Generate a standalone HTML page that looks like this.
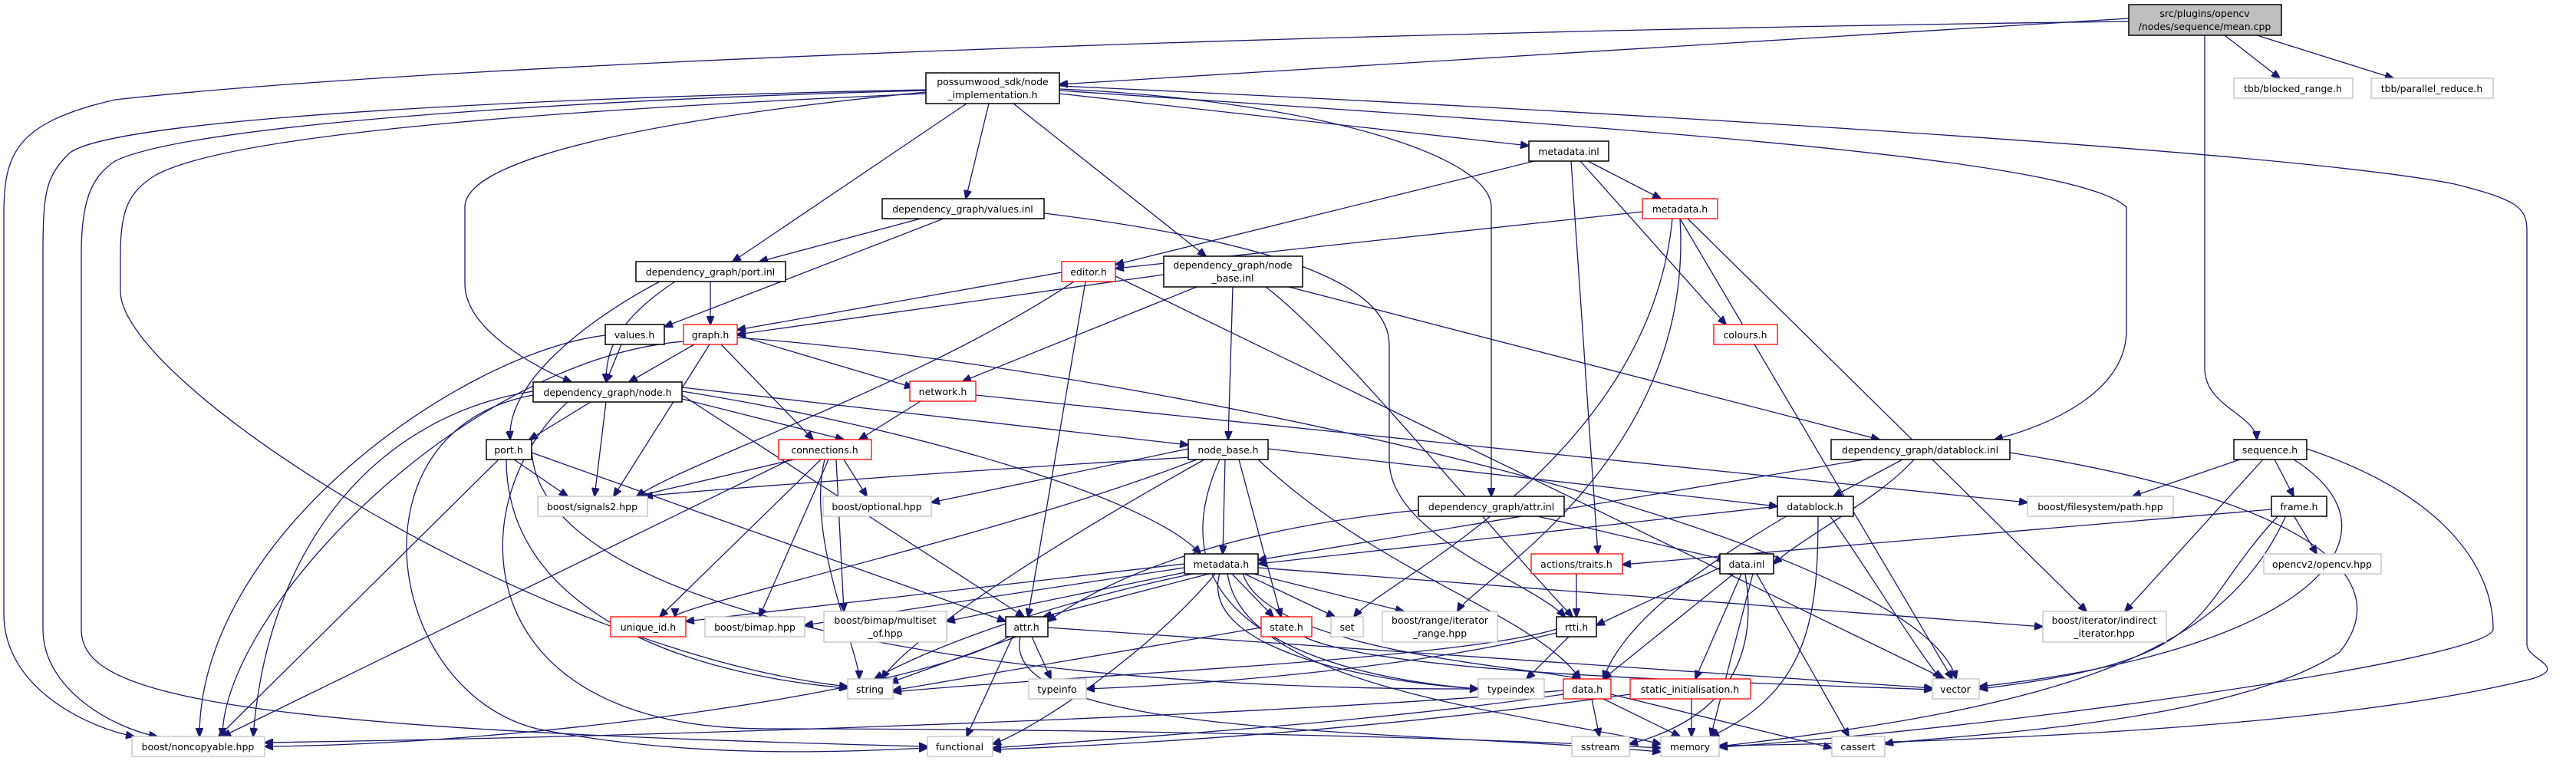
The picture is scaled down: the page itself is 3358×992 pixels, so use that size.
<!DOCTYPE html>
<html><head><meta charset="utf-8"><style>
html,body{margin:0;padding:0;background:#fff;}
svg{display:block;}
text{font-family:"DejaVu Sans","Liberation Sans",sans-serif;font-size:12.5px;fill:#000;text-anchor:middle;}
.e{fill:none;stroke:#191970;stroke-width:1.3;}
.b{fill:#fff;stroke:#000;stroke-width:1.5;}
.g{fill:#fff;stroke:#bfbfbf;stroke-width:1.3;}
.r{fill:#fff;stroke:#ff0000;stroke-width:1.3;}
</style></head><body>
<svg width="3358" height="992" viewBox="0 0 3358 992" xmlns="http://www.w3.org/2000/svg">
<defs><marker id="a" markerWidth="12" markerHeight="10" refX="11" refY="5" orient="auto" markerUnits="userSpaceOnUse"><path d="M0,0 L12,5 L0,10 z" fill="#191970" stroke="#191970"/></marker></defs>
<g class="e" marker-end="url(#a)">
<path d="M2775,24 L1381,110"/>
<path d="M2775,28 C1800,40 600,80 150,130 C20,160 5,200 5,280 L5,800 C5,900 120,950 175,960"/>
<path d="M2900,46 L2972,102"/>
<path d="M2942,46 L3120,102"/>
<path d="M2874,46 L2874,480 C2874,530 2940,540 2942,573"/>
<path d="M1260,135 L955,341"/>
<path d="M1289,135 L1259,259"/>
<path d="M1321,135 L1572,334"/>
<path d="M1381,122 L1993,190"/>
<path d="M1381,118 C2000,160 2700,200 2772,270 L2772,430 C2772,520 2650,560 2600,573"/>
<path d="M1381,112 C2200,150 3000,200 3200,240 C3280,260 3294,270 3294,300 L3294,840 C3294,860 3350,870 3300,885 C3000,960 2400,970 2241,972"/>
<path d="M1381,116 C1700,130 1944,200 1944,270 L1944,647"/>
<path d="M1207,120 C900,150 606,200 606,270 L606,370 C606,430 700,480 745,498"/>
<path d="M1207,117 C800,125 150,150 90,200 C60,230 56,250 56,330 L56,820 C56,900 150,950 205,960"/>
<path d="M1207,118 C800,128 250,160 150,210 C120,230 106,260 106,330 L106,820 C106,900 250,950 1209,973"/>
<path d="M1207,122 C800,140 300,170 200,230 C170,250 157,270 157,330 L157,380 C157,500 700,850 1105,895"/>
<path d="M1200,285 L990,341"/>
<path d="M1230,285 L866,426"/>
<path d="M1361,278 C1700,320 1811,380 1811,450 L1811,600 C1811,700 2000,760 2040,804"/>
<path d="M926,367 L926,423"/>
<path d="M880,367 C800,420 790,460 790,498"/>
<path d="M860,367 C760,420 660,500 665,573"/>
<path d="M2000,210 L1454,345"/>
<path d="M2070,210 L2165,259"/>
<path d="M2060,210 L2250,423"/>
<path d="M2048,210 L2083,722"/>
<path d="M2141,276 L1454,350"/>
<path d="M2190,285 L2545,885"/>
<path d="M2200,285 L2720,797"/>
<path d="M2180,285 C2150,600 1800,760 1765,804"/>
<path d="M2190,285 C2210,600 1920,760 1900,797"/>
<path d="M1384,355 L961,430"/>
<path d="M1400,367 C1200,500 900,600 830,647"/>
<path d="M1415,367 L1340,804"/>
<path d="M1454,360 L2535,885"/>
<path d="M1517,358 L961,436"/>
<path d="M1560,374 L1255,497"/>
<path d="M1607,374 L1601,573"/>
<path d="M1650,374 C1750,450 1950,700 2050,804"/>
<path d="M1680,374 L2450,573"/>
<path d="M810,449 L790,498"/>
<path d="M789,437 C600,460 260,700 260,960"/>
<path d="M905,449 L820,498"/>
<path d="M925,449 L800,647"/>
<path d="M940,449 L1060,573"/>
<path d="M961,437 L1190,505"/>
<path d="M891,445 C600,470 290,800 290,960"/>
<path d="M961,440 C1500,480 2500,700 2550,885"/>
<path d="M770,524 L690,573"/>
<path d="M790,524 L775,647"/>
<path d="M889,505 L1549,580"/>
<path d="M889,510 C1200,560 1500,650 1565,722"/>
<path d="M889,515 L1335,804"/>
<path d="M695,510 C500,540 350,700 330,960"/>
<path d="M695,515 C450,560 500,900 700,950 C900,990 1100,980 1209,975"/>
<path d="M740,524 C600,650 600,950 1000,950 C1400,950 1900,960 2165,975"/>
<path d="M889,520 L1100,573"/>
<path d="M1200,523 L1120,573"/>
<path d="M1272,515 L2643,655"/>
<path d="M670,599 L740,647"/>
<path d="M650,599 L285,960"/>
<path d="M660,599 C660,800 900,880 1105,897"/>
<path d="M693,590 L1311,810"/>
<path d="M693,585 C700,800 1300,900 1927,898"/>
<path d="M1035,599 L830,647"/>
<path d="M1100,599 L1130,647"/>
<path d="M1070,599 L860,804"/>
<path d="M1080,599 L990,804"/>
<path d="M1090,599 L1100,797"/>
<path d="M1030,599 L290,960"/>
<path d="M1075,599 C1050,700 1120,850 1120,885"/>
<path d="M1549,585 L1214,655"/>
<path d="M1597,599 L1594,722"/>
<path d="M1615,599 L1670,804"/>
<path d="M1653,585 L2317,660"/>
<path d="M1560,599 C1300,700 880,790 880,804"/>
<path d="M1570,599 C1300,750 1170,850 1150,885"/>
<path d="M1640,599 C1800,750 2000,800 2060,885"/>
<path d="M1590,599 C1500,800 1700,880 1927,898"/>
<path d="M1570,595 C1300,610 900,640 840,647"/>
<path d="M2480,599 L2390,647"/>
<path d="M2495,599 C2450,650 2350,700 2312,735"/>
<path d="M2430,599 L1640,730"/>
<path d="M2620,590 C3000,650 3130,750 3050,850 C2900,950 2500,960 2457,970"/>
<path d="M2920,599 L2780,647"/>
<path d="M2965,599 L2990,647"/>
<path d="M2950,599 L2770,797"/>
<path d="M2990,599 C3150,700 3000,850 2580,895"/>
<path d="M3007,585 C3200,650 3250,750 3250,820 C3250,860 2600,950 2241,974"/>
<path d="M2961,664 L2115,736"/>
<path d="M2990,672 L3020,722"/>
<path d="M2970,672 C2850,800 2900,860 2580,898"/>
<path d="M2980,672 C2900,850 2700,920 2241,973"/>
<path d="M2317,660 L1640,735"/>
<path d="M2385,672 C2440,750 2500,850 2530,885"/>
<path d="M2330,672 C2250,720 2120,800 2090,885"/>
<path d="M2370,672 C2370,800 2360,900 2230,960"/>
<path d="M1849,665 C1600,690 1450,750 1366,810"/>
<path d="M2000,672 L2250,730"/>
<path d="M1580,747 L1360,804"/>
<path d="M1544,735 L894,810"/>
<path d="M1544,740 L1049,815"/>
<path d="M1550,745 L1234,810"/>
<path d="M1560,747 C1350,790 1200,850 1140,885"/>
<path d="M1605,747 L1660,804"/>
<path d="M1620,747 L1740,804"/>
<path d="M1630,747 L1830,797"/>
<path d="M1640,740 L2663,817"/>
<path d="M1585,747 C1500,850 1350,950 1294,970"/>
<path d="M1590,747 C1560,850 1800,890 1927,898"/>
<path d="M1600,747 C1620,900 2000,930 2165,970"/>
<path d="M1620,747 C1650,850 2000,870 2060,885"/>
<path d="M2055,748 L2055,804"/>
<path d="M2242,740 L2081,815"/>
<path d="M2260,748 L2090,885"/>
<path d="M2270,748 L2210,885"/>
<path d="M2290,748 L2410,960"/>
<path d="M2275,748 C2300,900 2200,950 2124,970"/>
<path d="M2285,748 L2230,960"/>
<path d="M1325,830 L1160,890"/>
<path d="M1345,830 L1370,885"/>
<path d="M1320,830 L1260,960"/>
<path d="M1315,830 C1200,900 700,970 345,973"/>
<path d="M1330,830 C1300,960 1800,950 2165,980"/>
<path d="M1366,818 L2519,897"/>
<path d="M1644,818 L1164,900"/>
<path d="M1700,830 C1800,880 2300,890 2519,899"/>
<path d="M2045,830 L1990,885"/>
<path d="M2029,820 C1900,860 1400,880 1164,902"/>
<path d="M2029,825 C1800,880 1500,895 1416,898"/>
<path d="M2075,911 L2085,960"/>
<path d="M2090,911 L2190,960"/>
<path d="M2038,905 C1800,940 1500,960 1294,975"/>
<path d="M2038,900 C1700,930 900,960 345,968"/>
<path d="M2100,905 L2388,975"/>
<path d="M2205,911 L2205,960"/>
<path d="M2125,905 C1800,950 1500,970 1294,977"/>
</g>
<rect x="2775" y="6" width="199" height="40" fill="#bfbfbf" stroke="#000" stroke-width="1.5"/>
<text x="2874" y="22">src/plugins/opencv</text><text x="2874" y="39">/nodes/sequence/mean.cpp</text>
<rect class="b" x="1207" y="95" width="174" height="40"/><text x="1294" y="111">possumwood_sdk/node</text><text x="1294" y="128">_implementation.h</text>
<rect class="g" x="2912" y="102" width="155" height="26"/><text x="2989" y="120">tbb/blocked_range.h</text>
<rect class="g" x="3091" y="102" width="159" height="26"/><text x="3170" y="120">tbb/parallel_reduce.h</text>
<rect class="b" x="1993" y="184" width="104" height="26"/><text x="2045" y="202">metadata.inl</text>
<rect class="b" x="1150" y="259" width="211" height="26"/><text x="1255" y="277">dependency_graph/values.inl</text>
<rect class="r" x="2141" y="259" width="98" height="26"/><text x="2190" y="277">metadata.h</text>
<rect class="b" x="829" y="341" width="195" height="26"/><text x="926" y="359">dependency_graph/port.inl</text>
<rect class="r" x="1384" y="341" width="70" height="26"/><text x="1419" y="359">editor.h</text>
<rect class="b" x="1517" y="334" width="181" height="40"/><text x="1607" y="350">dependency_graph/node</text><text x="1607" y="367">_base.inl</text>
<rect class="b" x="789" y="423" width="77" height="26"/><text x="827" y="441">values.h</text>
<rect class="r" x="891" y="423" width="70" height="26"/><text x="926" y="441">graph.h</text>
<rect class="r" x="2234" y="423" width="83" height="26"/><text x="2275" y="441">colours.h</text>
<rect class="b" x="695" y="498" width="194" height="26"/><text x="792" y="516">dependency_graph/node.h</text>
<rect class="r" x="1186" y="497" width="86" height="26"/><text x="1229" y="515">network.h</text>
<rect class="b" x="634" y="573" width="59" height="26"/><text x="663" y="591">port.h</text>
<rect class="r" x="1015" y="573" width="121" height="26"/><text x="1075" y="591">connections.h</text>
<rect class="b" x="1549" y="573" width="104" height="26"/><text x="1601" y="591">node_base.h</text>
<rect class="b" x="2387" y="573" width="233" height="26"/><text x="2503" y="591">dependency_graph/datablock.inl</text>
<rect class="b" x="2912" y="573" width="95" height="26"/><text x="2959" y="591">sequence.h</text>
<rect class="g" x="701" y="647" width="143" height="26"/><text x="772" y="665">boost/signals2.hpp</text>
<rect class="g" x="1073" y="647" width="141" height="26"/><text x="1143" y="665">boost/optional.hpp</text>
<rect class="b" x="1849" y="647" width="190" height="26"/><text x="1944" y="665">dependency_graph/attr.inl</text>
<rect class="b" x="2317" y="647" width="99" height="26"/><text x="2366" y="665">datablock.h</text>
<rect class="g" x="2643" y="647" width="190" height="26"/><text x="2738" y="665">boost/filesystem/path.hpp</text>
<rect class="b" x="2961" y="647" width="72" height="26"/><text x="2997" y="665">frame.h</text>
<rect class="b" x="1544" y="722" width="96" height="26"/><text x="1592" y="740">metadata.h</text>
<rect class="r" x="1996" y="722" width="119" height="26"/><text x="2055" y="740">actions/traits.h</text>
<rect class="b" x="2242" y="722" width="70" height="26"/><text x="2277" y="740">data.inl</text>
<rect class="g" x="2951" y="722" width="153" height="26"/><text x="3027" y="740">opencv2/opencv.hpp</text>
<rect class="r" x="796" y="804" width="98" height="26"/><text x="845" y="822">unique_id.h</text>
<rect class="g" x="919" y="804" width="130" height="26"/><text x="984" y="822">boost/bimap.hpp</text>
<rect class="g" x="1074" y="797" width="160" height="40"/><text x="1154" y="813">boost/bimap/multiset</text><text x="1154" y="830">_of.hpp</text>
<rect class="b" x="1311" y="804" width="55" height="26"/><text x="1338" y="822">attr.h</text>
<rect class="r" x="1644" y="804" width="66" height="26"/><text x="1677" y="822">state.h</text>
<rect class="g" x="1735" y="804" width="42" height="26"/><text x="1756" y="822">set</text>
<rect class="g" x="1802" y="797" width="150" height="40"/><text x="1877" y="813">boost/range/iterator</text><text x="1877" y="830">_range.hpp</text>
<rect class="b" x="2029" y="804" width="52" height="26"/><text x="2055" y="822">rtti.h</text>
<rect class="g" x="2663" y="797" width="161" height="40"/><text x="2743" y="813">boost/iterator/indirect</text><text x="2743" y="830">_iterator.hpp</text>
<rect class="g" x="1105" y="885" width="59" height="26"/><text x="1134" y="903">string</text>
<rect class="g" x="1341" y="885" width="75" height="26"/><text x="1378" y="903">typeinfo</text>
<rect class="g" x="1927" y="885" width="86" height="26"/><text x="1970" y="903">typeindex</text>
<rect class="r" x="2038" y="885" width="62" height="26"/><text x="2069" y="903">data.h</text>
<rect class="r" x="2125" y="885" width="157" height="26"/><text x="2203" y="903">static_initialisation.h</text>
<rect class="g" x="2519" y="885" width="61" height="26"/><text x="2549" y="903">vector</text>
<rect class="g" x="172" y="960" width="173" height="26"/><text x="258" y="978">boost/noncopyable.hpp</text>
<rect class="g" x="1209" y="960" width="85" height="26"/><text x="1251" y="978">functional</text>
<rect class="g" x="2049" y="960" width="75" height="26"/><text x="2086" y="978">sstream</text>
<rect class="g" x="2165" y="960" width="76" height="26"/><text x="2203" y="978">memory</text>
<rect class="g" x="2388" y="960" width="69" height="26"/><text x="2422" y="978">cassert</text>
</svg>
</body></html>
